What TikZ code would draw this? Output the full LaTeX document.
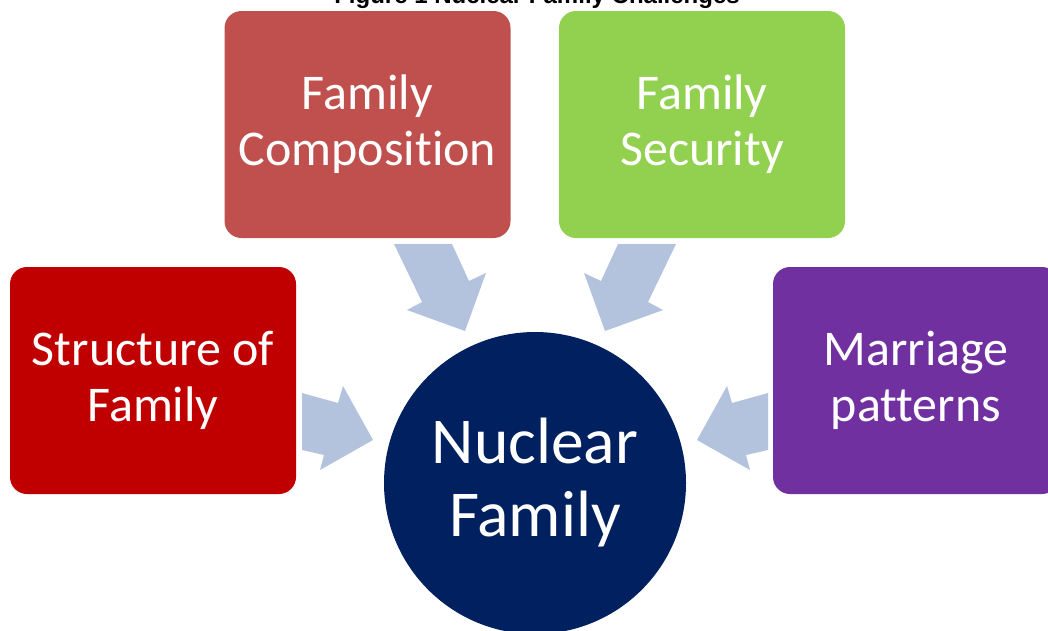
\documentclass[tikz,border=0pt]{standalone}
\usepackage{fontspec}
\setmainfont{Carlito}[Ligatures={NoCommon,NoContextual}]
\newfontfamily\titlefont{Liberation Sans}
\definecolor{cbrown}{HTML}{C0504D}
\definecolor{cgreen}{HTML}{92D050}
\definecolor{cred}{HTML}{C00000}
\definecolor{cpurple}{HTML}{7030A0}
\definecolor{cnavy}{HTML}{002060}
\definecolor{carrow}{HTML}{B3C3DE}
\tikzset{
  boxnode/.style={rectangle, rounded corners=17pt, minimum width=286pt, minimum height=227pt,
    inner sep=0pt, text=white, align=center, font=\fontsize{50}{56}\selectfont},
  hubnode/.style={circle, minimum size=302pt, inner sep=0pt, fill=cnavy, text=white,
    align=center, font=\fontsize{65.5}{73}\selectfont},
  blockarrow/.style={fill=carrow, draw=none}
}
\begin{document}
\begin{tikzpicture}[x=1pt,y=-1pt]
\useasboundingbox (0,0) rectangle (1048,630);
\node[anchor=base, font=\titlefont\bfseries\fontsize{24}{28}\selectfont] (title) at (537,3) {Figure 1 Nuclear Family Challenges};
\node[boxnode, fill=cbrown] (comp) at (367.5,124.5) {Family\\Composition};
\node[boxnode, fill=cgreen] (sec) at (702,124.5) {Family\\Security};
\node[boxnode, fill=cred] (struct) at (153,380.5) {Structure of\\Family};
\node[boxnode, fill=cpurple] (marr) at (916,380.5) {Marriage\\patterns};
\node[hubnode] (hub) at (535,483) {Nuclear\\Family};
% block arrows
\fill[blockarrow] (394,244) -- (452,244) -- (469,281) -- (486,273) -- (465,331) -- (407,310) -- (422,302) -- cycle;
\fill[blockarrow] (676,244) -- (618,244) -- (601,281) -- (584,273) -- (605,331) -- (663,310) -- (648,302) -- cycle;
\fill[blockarrow] (302,393) -- (338,403) -- (343,386) -- (373,440) -- (320,470) -- (324,455) -- (302,450) -- cycle;
\fill[blockarrow] (768,393) -- (732,403) -- (727,386) -- (697,440) -- (750,470) -- (746,455) -- (768,450) -- cycle;
\end{tikzpicture}
\end{document}
